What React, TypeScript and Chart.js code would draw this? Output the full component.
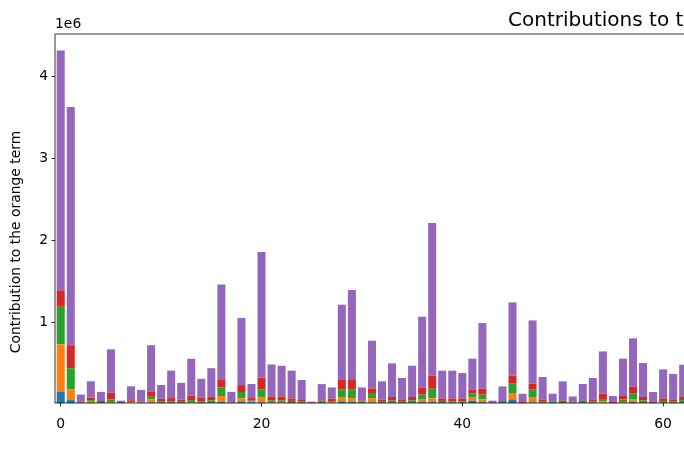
import React, { useEffect, useRef } from "react";
import { Chart, registerables } from "chart.js";

Chart.register(...registerables);

// values in units of 1e6
const UNIT = 1e6;
const TITLE = "Contributions to the orange term";
const Y_LABEL = "Contribution to the orange term";
const OFFSET_LABEL = "1e6";

const blueVals = [
  0.15, 0.05, 0.002, 0.01, 0.005, 0.005, 0.003, 0.003, 0.005, 0.02,
  0.005, 0.005, 0.005, 0.005, 0.005, 0.005, 0.03, 0.005, 0.034, 0.025,
  0.02, 0.01, 0.01, 0.005, 0.005, 0.003, 0.005, 0.005, 0.034, 0.03,
  0.005, 0.02, 0.005, 0.005, 0.005, 0.005, 0.025, 0.025, 0.005, 0.005,
  0.005, 0.043, 0.025, 0.003, 0.003, 0.06, 0.005, 0.02, 0.005, 0.003,
  0.003, 0.01, 0.003, 0.005, 0.01, 0.003, 0.005, 0.03, 0.005, 0.003,
  0.005, 0.005, 0.005,
];
const orangeVals = [
  0.58, 0.13, 0.01, 0.02, 0.01, 0.015, 0.003, 0.02, 0.005, 0.04,
  0.01, 0.01, 0.005, 0.02, 0.01, 0.01, 0.07, 0.003, 0.037, 0.01,
  0.06, 0.01, 0.01, 0.005, 0.01, 0.002, 0.005, 0.015, 0.054, 0.045,
  0.005, 0.055, 0.005, 0.01, 0.005, 0.01, 0.038, 0.046, 0.01, 0.01,
  0.01, 0.045, 0.034, 0.003, 0.005, 0.068, 0.005, 0.068, 0.01, 0.003,
  0.005, 0.005, 0.005, 0.01, 0.024, 0.005, 0.02, 0.033, 0.01, 0.003,
  0.01, 0.01, 0.01,
];
const greenVals = [
  0.46, 0.26, 0.005, 0.02, 0.01, 0.04, 0.003, 0.005, 0.01, 0.03,
  0.02, 0.02, 0.02, 0.025, 0.02, 0.03, 0.105, 0.01, 0.078, 0.008,
  0.098, 0.025, 0.025, 0.03, 0.02, 0.003, 0.02, 0.01, 0.089, 0.102,
  0.025, 0.062, 0.02, 0.028, 0.02, 0.03, 0.053, 0.118, 0.025, 0.02,
  0.02, 0.04, 0.057, 0.005, 0.02, 0.122, 0.005, 0.089, 0.015, 0.02,
  0.02, 0.005, 0.02, 0.02, 0.029, 0.005, 0.034, 0.065, 0.03, 0.005,
  0.025, 0.02, 0.035,
];
const redVals = [
  0.2, 0.28, 0.015, 0.03, 0.015, 0.08, 0.004, 0.02, 0.01, 0.06,
  0.03, 0.04, 0.025, 0.055, 0.045, 0.045, 0.1, 0.002, 0.085, 0.032,
  0.147, 0.05, 0.05, 0.03, 0.025, 0.002, 0.015, 0.037, 0.118, 0.118,
  0.01, 0.056, 0.025, 0.045, 0.029, 0.043, 0.089, 0.163, 0.03, 0.035,
  0.035, 0.049, 0.073, 0.005, 0.012, 0.098, 0.02, 0.073, 0.029, 0.004,
  0.015, 0.01, 0.012, 0.024, 0.065, 0.015, 0.041, 0.089, 0.043, 0.02,
  0.031, 0.024, 0.038,
];
const purpleVals = [
  2.93, 2.91, 0.085, 0.2, 0.11, 0.53, 0.03, 0.17, 0.145, 0.57,
  0.17, 0.335, 0.205, 0.45, 0.23, 0.35, 1.157, 0.13, 0.818, 0.172,
  1.534, 0.39, 0.374, 0.34, 0.236, 0.02, 0.2, 0.138, 0.92, 1.099,
  0.16, 0.582, 0.224, 0.41, 0.261, 0.382, 0.863, 1.86, 0.339, 0.339,
  0.31, 0.379, 0.802, 0.027, 0.177, 0.895, 0.093, 0.773, 0.273, 0.098,
  0.236, 0.065, 0.207, 0.261, 0.517, 0.072, 0.456, 0.587, 0.415, 0.118,
  0.354, 0.31, 0.394,
];

const xTicks = [0, 20, 40, 60, 80, 100, 120];
const yTicks = [1, 2, 3, 4];

const series = [
  { vals: blueVals, color: "#1f77b4" },
  { vals: orangeVals, color: "#ff7f0e" },
  { vals: greenVals, color: "#2ca02c" },
  { vals: redVals, color: "#d62728" },
  { vals: purpleVals, color: "#9467bd" },
];

const FONT = '"DejaVu Sans", sans-serif';

const textPlugin = {
  id: "mplTexts",
  afterDatasetsDraw(chart: any) {
    const { ctx, chartArea: a } = chart;
    ctx.save();
    ctx.strokeStyle = "#000";
    ctx.lineWidth = 0.8;
    ctx.strokeRect(a.left, a.top, a.right - a.left, a.bottom - a.top);
    ctx.restore();
  },
  afterDraw(chart: any) {
    const { ctx, chartArea: a } = chart;
    ctx.save();
    ctx.fillStyle = "#000";
    ctx.font = `20px ${FONT}`;
    ctx.textAlign = "center";
    ctx.textBaseline = "alphabetic";
    ctx.fillText(TITLE, (a.left + a.right) / 2, 25.5);
    ctx.font = `13.9px ${FONT}`;
    ctx.textAlign = "left";
    ctx.fillText(OFFSET_LABEL, a.left, 28);
    ctx.translate(16, 242);
    ctx.rotate(-Math.PI / 2);
    ctx.textAlign = "center";
    ctx.textBaseline = "middle";
    ctx.fillText(Y_LABEL, 0, 0);
    ctx.restore();
  },
};

export default function App() {
  const ref = useRef<HTMLCanvasElement | null>(null);
  useEffect(() => {
    if (!ref.current) return;
    const chart = new Chart(ref.current, {
      type: "bar",
      data: {
        datasets: series.map((s) => ({
          data: s.vals.map((v, i) => ({ x: i, y: v * UNIT })),
          backgroundColor: s.color,
          borderWidth: 0,
          barPercentage: 0.8,
          categoryPercentage: 1,
        })),
      },
      options: {
        animation: false,
        responsive: false,
        devicePixelRatio: 1,
        layout: { padding: { top: 34, right: 8, left: 0, bottom: 0 } },
        plugins: {
          legend: { display: false },
          tooltip: { enabled: false },
          title: { display: false },
        },
        scales: {
          x: {
            type: "linear",
            stacked: true,
            offset: false,
            min: -0.57,
            max: 122.64,
            afterBuildTicks: (scale: any) => {
              scale.ticks = xTicks.map((v) => ({ value: v }));
            },
            afterFit: (scale: any) => {
              scale.height = 58;
            },
            grid: {
              offset: false,
              drawOnChartArea: false,
              drawTicks: true,
              tickLength: 3.5,
              color: "#000",
              lineWidth: 0.8,
            },
            border: { display: false },
            ticks: {
              padding: 10,
              color: "#000",
              font: { family: FONT, size: 13.9 },
              maxRotation: 0,
              autoSkip: false,
              callback: (v: any) => String(v),
            },
          },
          y: {
            stacked: true,
            min: 0.0146 * UNIT,
            max: 4.521 * UNIT,
            afterBuildTicks: (scale: any) => {
              scale.ticks = yTicks.map((v) => ({ value: v * UNIT }));
            },
            afterFit: (scale: any) => {
              scale.width = 55;
            },
            grid: {
              drawOnChartArea: false,
              drawTicks: true,
              tickLength: 3.5,
              color: "#000",
              lineWidth: 0.8,
            },
            border: { display: false },
            ticks: {
              padding: 3.5,
              color: "#000",
              font: { family: FONT, size: 13.9 },
              callback: (v: any) => String(Number(v) / UNIT),
            },
          },
        },
      },
      plugins: [textPlugin],
    });
    return () => chart.destroy();
  }, []);

  return (
    <div
      style={{
        position: "absolute",
        left: 0,
        top: 0,
        width: 684,
        height: 461,
        overflow: "hidden",
        background: "#fff",
      }}
    >
      <canvas ref={ref} width={1300} height={461} style={{ display: "block" }} />
    </div>
  );
}
